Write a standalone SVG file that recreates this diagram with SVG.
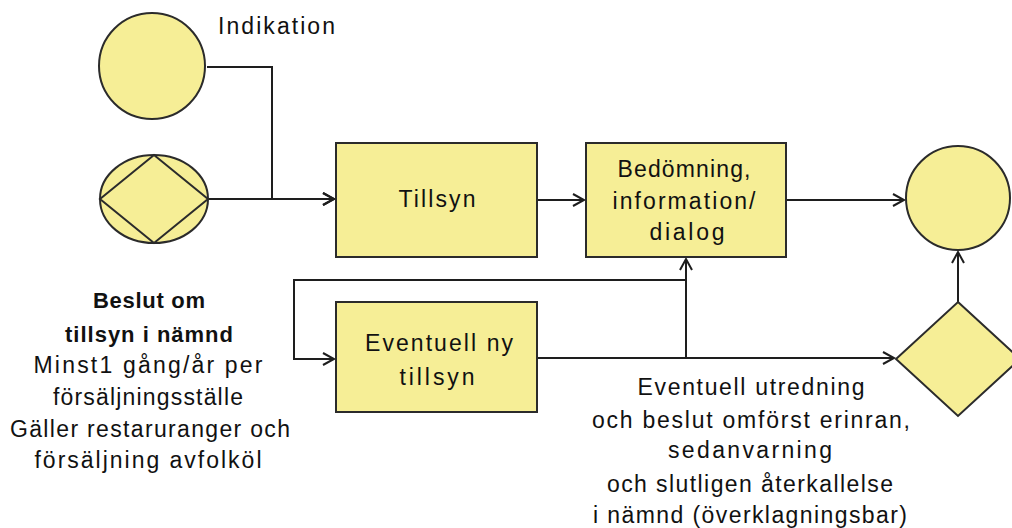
<svg xmlns="http://www.w3.org/2000/svg" width="1012" height="528" viewBox="0 0 1012 528">
  <style>
    .shape { fill: #F6EE96; stroke: #2b2b2b; stroke-width: 2; }
    .conn { fill: none; stroke: #1e1e1e; stroke-width: 2; }
    .lbl { font-family: "Liberation Sans", Arial, sans-serif; font-size: 23px; fill: #111; }
    .c { text-anchor: middle; }
    .b { font-weight: bold; font-size: 22px; }
  </style>
  <defs>
    <marker id="arrow" markerUnits="userSpaceOnUse" markerWidth="16" markerHeight="16" refX="12" refY="7" orient="auto">
      <path d="M1,1 L12,7 L1,13" fill="none" stroke="#1e1e1e" stroke-width="2"/>
    </marker>
  </defs>

  <rect width="1012" height="528" fill="#ffffff"/>

  <!-- connectors -->
  <g id="connectors">
    <path class="conn" d="M207,67 H272 V199 H334" marker-end="url(#arrow)"/>
    <path class="conn" d="M208,199 H334" marker-end="url(#arrow)"/>
    <path class="conn" d="M537,200 H584" marker-end="url(#arrow)"/>
    <path class="conn" d="M786,200 H904" marker-end="url(#arrow)"/>
    <path class="conn" d="M958,302 V252" marker-end="url(#arrow)"/>
    <path class="conn" d="M537,358 H894" marker-end="url(#arrow)"/>
    <path class="conn" d="M686,358 V259" marker-end="url(#arrow)"/>
    <path class="conn" d="M686,280 H294 V359 H334" marker-end="url(#arrow)"/>
  </g>

  <!-- start event -->
  <g id="indikation">
    <circle class="shape" cx="152" cy="66" r="53"/>
    <text class="lbl" x="218" y="34" textLength="117" lengthAdjust="spacing">Indikation</text>
  </g>

  <!-- scheduled start -->
  <g id="beslut">
    <ellipse class="shape" cx="154" cy="199" rx="54" ry="44"/>
    <path class="shape" d="M100,199 L154,155 L208,199 L154,243 Z"/>
    <text class="lbl b c" x="149" y="308" textLength="112" lengthAdjust="spacing">Beslut om</text>
    <text class="lbl b c" x="149" y="342" textLength="168" lengthAdjust="spacing">tillsyn i nämnd</text>
    <text class="lbl c" x="148" y="373" textLength="229" lengthAdjust="spacing">Minst1 gång/år per</text>
    <text class="lbl c" x="148" y="405" textLength="190" lengthAdjust="spacing">försäljningsställe</text>
    <text class="lbl c" x="150" y="437" textLength="280" lengthAdjust="spacing">Gäller restaruranger och</text>
    <text class="lbl c" x="148" y="468" textLength="227" lengthAdjust="spacing">försäljning avfolköl</text>
  </g>

  <!-- inspection -->
  <g id="tillsyn">
    <rect class="shape" x="336" y="143" width="201" height="114"/>
    <text class="lbl c" x="437" y="207" textLength="77" lengthAdjust="spacing">Tillsyn</text>
  </g>

  <!-- assessment -->
  <g id="bedomning">
    <rect class="shape" x="586" y="143" width="200" height="114"/>
    <text class="lbl c" x="684" y="177" textLength="133" lengthAdjust="spacing">Bedömning,</text>
    <text class="lbl c" x="684" y="209" textLength="143" lengthAdjust="spacing">information/</text>
    <text class="lbl c" x="687" y="240" textLength="75" lengthAdjust="spacing">dialog</text>
  </g>

  <!-- follow-up inspection -->
  <g id="ny-tillsyn">
    <rect class="shape" x="336" y="302" width="201" height="110"/>
    <text class="lbl c" x="439" y="351" textLength="148" lengthAdjust="spacing">Eventuell ny</text>
    <text class="lbl c" x="437" y="385" textLength="75" lengthAdjust="spacing">tillsyn</text>
  </g>

  <!-- end event -->
  <g id="slut">
    <circle class="shape" cx="958" cy="198" r="52"/>
  </g>

  <!-- decision -->
  <g id="utredning">
    <path class="shape" d="M958,302 L1020,359 L958,416 L896,359 Z"/>
    <text class="lbl c" x="751" y="395" textLength="227" lengthAdjust="spacing">Eventuell utredning</text>
    <text class="lbl c" x="751" y="428" textLength="318" lengthAdjust="spacing">och beslut omförst erinran,</text>
    <text class="lbl c" x="750" y="458" textLength="164" lengthAdjust="spacing">sedanvarning</text>
    <text class="lbl c" x="750" y="492" textLength="286" lengthAdjust="spacing">och slutligen återkallelse</text>
    <text class="lbl c" x="750" y="523" textLength="314" lengthAdjust="spacing">i nämnd (överklagningsbar)</text>
  </g>
</svg>
